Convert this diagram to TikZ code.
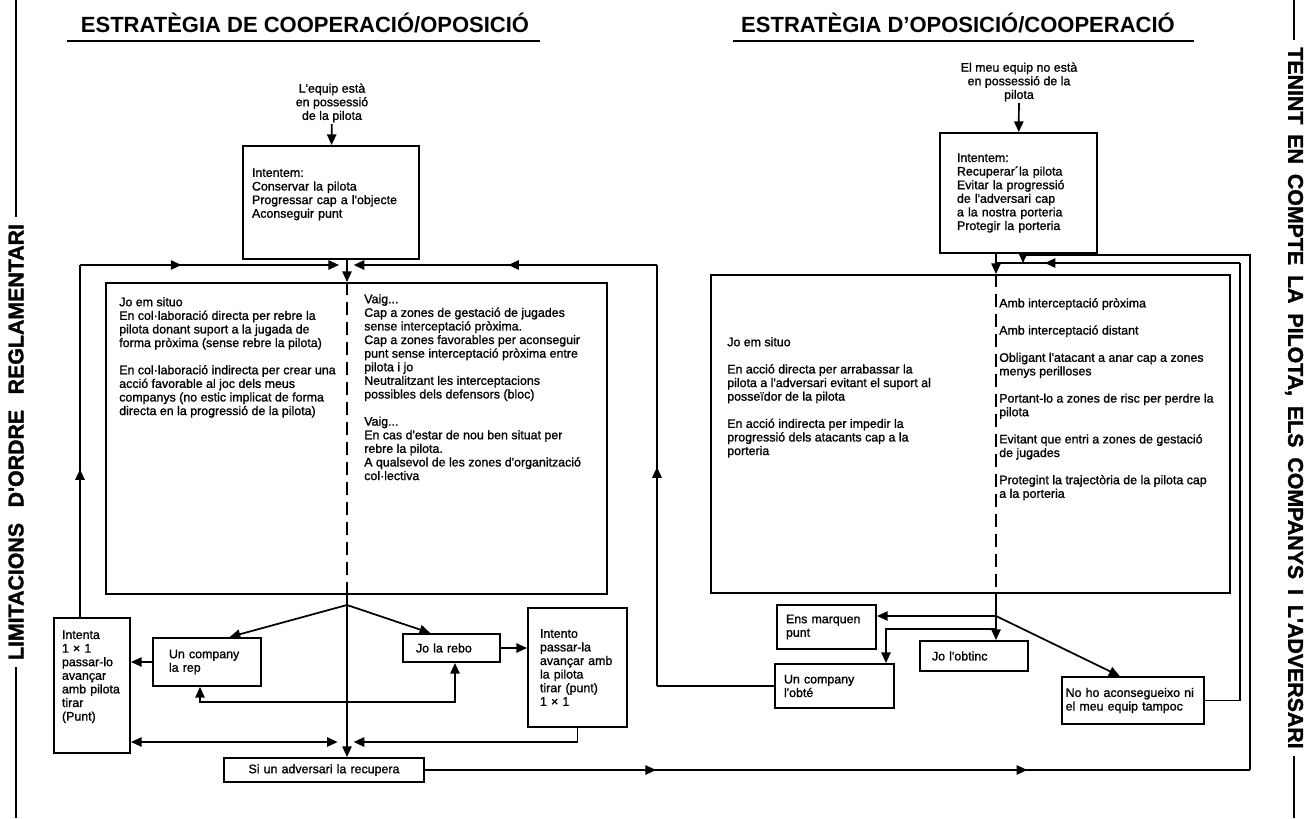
\documentclass[tikz,border=0pt]{standalone}
\usepackage{fontspec}
\setmainfont{Liberation Sans}
\newfontfamily\gruix{Liberation Sans}[BoldFont={Liberation Sans}, BoldFeatures={FakeBold=1.2}]
\newfontfamily\negre{Liberation Sans}[BoldFont={Liberation Sans Bold}, BoldFeatures={FakeBold=1.5}]
\usetikzlibrary{arrows.meta,decorations.markings,positioning}
\newcommand{\lletra}{\gruix\bfseries\fontsize{9.3}{10.2}\selectfont}

\begin{document}
\begin{tikzpicture}[x=0.75pt, y=-0.75pt,
  >={Triangle[length=8pt,width=7pt]},
  caixa/.style={draw, line width=1.5pt, anchor=north west, align=left, inner ysep=0pt, font=\lletra},
  gran/.style={draw, line width=1.5pt, anchor=north west, inner sep=0pt},
  columna/.style={anchor=north west, align=left, inner sep=0pt, font=\lletra},
  linia/.style={line width=1.3pt},
  fletxa/.style={line width=1.3pt, ->},
  mig/.style={postaction={decorate, decoration={markings, mark=at position #1 with {\arrow{>}}}}},
  divisio/.style={line width=1.3pt, dash pattern=on 10pt off 5pt},
  titol/.style={font=\bfseries\fontsize{16.5}{18}\selectfont, inner sep=0pt, anchor=base},
  lateral/.style={font=\negre\bfseries\fontsize{16}{18}\selectfont, inner ysep=0pt, inner xsep=5pt}]
\useasboundingbox (0,0) rectangle (1314,818);
\coordinate (vora0) at (0,0);
\coordinate (vora1) at (1314,818);

% titols i textos laterals
\node[titol] (titolL) at (305,32) {ESTRATÈGIA DE COOPERACIÓ/OPOSICIÓ};
\draw[line width=1.5pt] (67,41) -- (540,41);
\node[titol] (titolR) at (958,32) {ESTRATÈGIA D'OPOSICIÓ/COOPERACIÓ};
\draw[line width=1.5pt] (733,41) -- (1194,41);

\node[lateral, rotate=90] (latL) at (16,442) {\makebox[327pt][s]{LIMITACIONS D'ORDRE REGLAMENTARI}};
\draw[line width=2pt] (latL.east) -- (latL.east |- vora0);
\draw[line width=2pt] (latL.west) -- (latL.west |- vora1);
\node[lateral, rotate=-90] (latR) at (1294,398) {\makebox[526pt][s]{TENINT EN COMPTE LA PILOTA, ELS COMPANYS I L'ADVERSARI}};
\draw[line width=2pt] (latR.west) -- (latR.west |- vora0);
\draw[line width=2pt] (latR.east) -- (latR.east |- vora1);

% cooperacio / oposicio
\node[font=\lletra, align=center, inner sep=1pt] (entL) at (332,103) {L'equip està\\en possessió\\de la pilota};
\node[caixa, text width=118.5pt, inner xsep=6.75pt, minimum height=84.75pt] (intL) at (242,145)
  {Intentem:\\Conservar la pilota\\Progressar cap a l'objecte\\Aconseguir punt\\[4pt]\mbox{}};
\node[gran, minimum width=375.75pt, minimum height=233.25pt] (bigL) at (105,282) {};
\node[columna] (colL1) at (119,297) {Jo em situo\\
  En col·laboració directa per rebre la\\
  pilota donant suport a la jugada de\\
  forma pròxima (sense rebre la pilota)\\[10.2pt]
  En col·laboració indirecta per crear una\\
  acció favorable al joc dels meus\\
  companys (no estic implicat de forma\\
  directa en la progressió de la pilota)};
\node[columna] (colL2) at (364,294) {Vaig...\\
  Cap a zones de gestació de jugades\\
  sense interceptació pròxima.\\
  Cap a zones favorables per aconseguir\\
  punt sense interceptació pròxima entre\\
  pilota i jo\\
  Neutralitzant les interceptacions\\
  possibles dels defensors (bloc)\\[10.2pt]
  Vaig...\\
  En cas d'estar de nou ben situat per\\
  rebre la pilota.\\
  A qualsevol de les zones d'organització\\
  col·lectiva};
\node[caixa, text width=45pt, inner xsep=6pt, minimum height=101.25pt] (intenta) at (53,617)
  {Intenta\\1 × 1\\passar-lo\\avançar\\amb pilota\\tirar\\(Punt)\\[4.8pt]\mbox{}};
\node[caixa, text width=57pt, inner xsep=12pt, minimum height=36pt] (companyL) at (152,637) {Un company\\la rep};
\node[caixa, text width=53.25pt, inner xsep=9.75pt, minimum height=21pt] (rebo) at (402,633) {Jo la rebo};
\node[caixa, text width=56.25pt, inner xsep=9pt, minimum height=89.25pt] (intento) at (527,607)
  {Intento\\passar-la\\avançar amb\\la pilota\\tirar (punt)\\1 × 1};
\node[caixa, align=center, text width=150pt, inner xsep=0pt, minimum height=18pt] (recupera) at (223,757) {Si un adversari la recupera};

\coordinate (cL) at (347,265);
\coordinate (jL) at (347,605);
\coordinate (bL) at (347,742);
\coordinate (rLw) at (80,265);
\coordinate (rLe) at (657,265);
\coordinate (lpA) at (200,702);
\coordinate (lpB) at (455,702);

\draw[fletxa] (entL) -- (intL);
\draw[fletxa] (intL.south -| cL) -- (bigL.north -| cL);
\draw[divisio] (bigL.north -| cL) -- (bigL.south -| cL);
\draw[fletxa] (bigL.south -| jL) -- (recupera.north -| jL);
\draw[fletxa] (jL) -- ([xshift=17pt]companyL.north);
\draw[fletxa] (jL) -- ([xshift=-16pt]rebo.north);
\draw[fletxa] (companyL.west) -- (companyL.west -| intenta.east);
\draw[fletxa] (rebo.east) -- (rebo.east -| intento.west);
\draw[linia, <->] (companyL.south -| lpA) -- (lpA) -- (lpB) -- (rebo.south -| lpB);
\draw[linia, mig=0.42] (intenta.north -| rLw) -- (rLw);
\draw[fletxa, mig=0.38, shorten >=6pt] (rLw) -- (cL);
\draw[linia, <->, shorten >=7pt] (intenta.east |- bL) -- (bL);
\draw[fletxa, shorten >=5pt] (intento.south) |- (bL);

% oposicio / cooperacio
\node[font=\lletra, align=center, inner sep=1pt] (entR) at (1019,82) {El meu equip no està\\en possessió de la\\pilota};
\node[caixa, text width=92.25pt, inner xsep=12.75pt, minimum height=90pt] (intR) at (939,132)
  {Intentem:\\Recuperar´la pilota\\Evitar la progressió\\de l'adversari cap\\a la nostra porteria\\Protegir la porteria};
\node[gran, minimum width=389.25pt, minimum height=238.5pt] (bigR) at (710,274) {};
\node[columna] (colR1) at (727,337) {Jo em situo\\[10.2pt]
  En acció directa per arrabassar la\\
  pilota a l'adversari evitant el suport al\\
  posseïdor de la pilota\\[10.2pt]
  En acció indirecta per impedir la\\
  progressió dels atacants cap a la\\
  porteria};
\node[columna] (colR2) at (999,298) {Amb interceptació pròxima\\[10.2pt]
  Amb interceptació distant\\[10.2pt]
  Obligant l'atacant a anar cap a zones\\
  menys perilloses\\[10.2pt]
  Portant-lo a zones de risc per perdre la\\
  pilota\\[10.2pt]
  Evitant que entri a zones de gestació\\
  de jugades\\[10.2pt]
  Protegint la trajectòria de la pilota cap\\
  a la porteria};
\node[caixa, text width=60.75pt, inner xsep=6.75pt, minimum height=33pt] (ensmarq) at (776,604) {Ens marquen\\punt};
\node[caixa, text width=63pt, inner xsep=9pt, minimum height=22.5pt] (obtinc) at (919,640) {Jo l'obtinc};
\node[caixa, text width=75.75pt, inner xsep=6.75pt, minimum height=33pt] (companyR) at (774,663) {Un company\\l'obté};
\node[caixa, text width=101pt, inner xsep=2.75pt, minimum height=35.25pt] (noho) at (1061,676) {No ho aconsegueixo ni\\el meu equip tampoc};

\coordinate (cR) at (996,263);
\coordinate (jR) at (996,616);
\coordinate (kR0) at (996,629);
\coordinate (kR) at (886,629);
\coordinate (rIn) at (1240,263);
\coordinate (rOut) at (1250,255);
\coordinate (rT) at (1023,255);

\draw[fletxa] (entR) -- (intR);
\draw[fletxa] (intR.south -| cR) -- (bigR.north -| cR);
\draw[divisio] (bigR.north -| cR) -- (bigR.south -| cR);
\draw[fletxa] (bigR.south -| jR) -- (obtinc.north -| jR);
\draw[fletxa] (jR) -- (ensmarq.east |- jR);
\draw[fletxa] (kR0) -- (kR) -- (companyR.north -| kR);
\draw[fletxa] (jR) -- ([xshift=-10pt]noho.north);
\draw[linia] (noho.east) -- (noho.east -| rIn) -- (rIn);
\draw[linia, mig=0.8] (rIn) -- (cR);

% retorns entre les dues estrategies
\draw[linia] (companyR.west) -- (companyR.west -| rLe);
\draw[linia, mig=0.52] (companyR.west -| rLe) -- (rLe);
\draw[fletxa, mig=0.48, shorten >=5pt] (rLe) -- (cL);
\draw[linia, mig=0.28, mig=0.73] (recupera.east) -- (recupera.east -| rOut);
\draw[linia] (recupera.east -| rOut) -- (rOut) -- (rT);
\draw[fletxa] (rT) -- (rT |- cR);
\end{tikzpicture}
\end{document}
